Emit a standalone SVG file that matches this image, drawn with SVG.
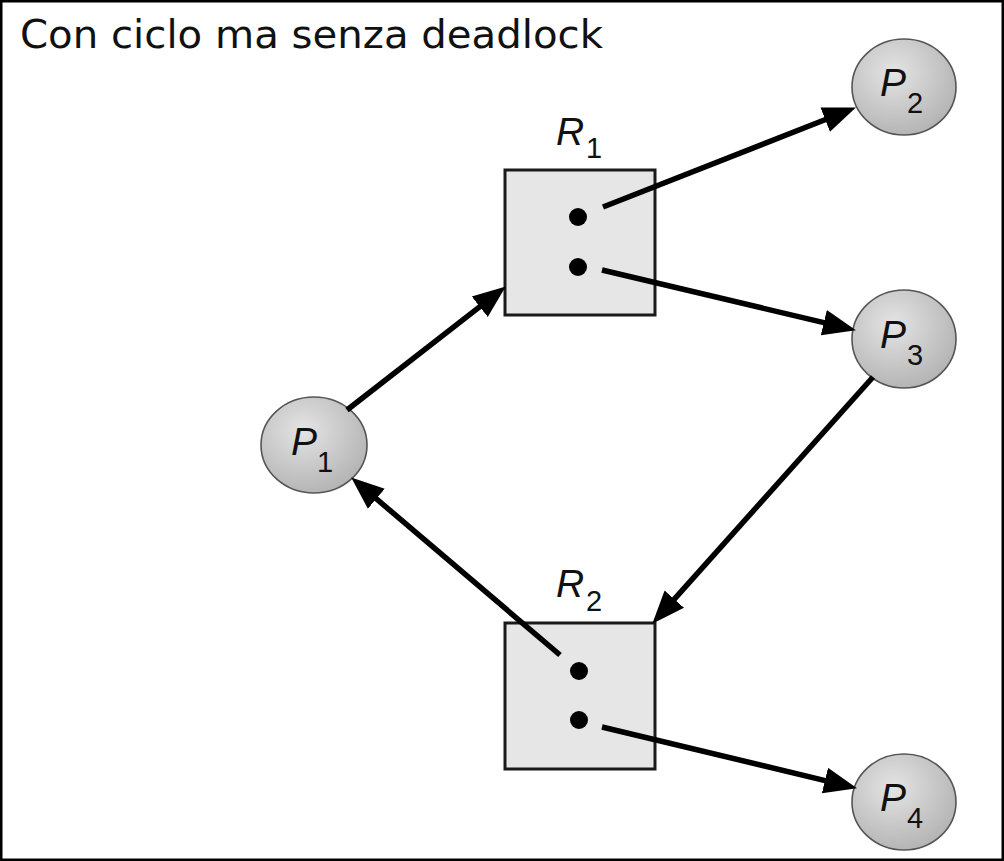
<svg xmlns="http://www.w3.org/2000/svg" width="1004" height="861" viewBox="0 0 1004 861">
<style>
.title{font-family:"DejaVu Sans",Verdana,sans-serif;font-size:39px;fill:#111}
.lbl{font-family:"Liberation Sans",Arial,sans-serif;font-size:39px;font-style:italic;fill:#111}
.sub{font-family:"Liberation Sans",Arial,sans-serif;font-size:29px;fill:#111}
.proc{fill:url(#g);stroke:#555;stroke-width:1.6}
.res{fill:#e6e6e6;stroke:#1a1a1a;stroke-width:3}
.dot{fill:#000}
.edge{stroke:#000;stroke-width:5.5;fill:none;marker-end:url(#ah)}
</style>
<defs>
<radialGradient id="g" cx="0.4" cy="0.35" r="0.7">
<stop offset="0" stop-color="#e4e4e4"/>
<stop offset="1" stop-color="#b2b2b2"/>
</radialGradient>
<marker id="ah" markerUnits="userSpaceOnUse" markerWidth="40" markerHeight="30" refX="12" refY="0" viewBox="0 -15 40 30" orient="auto">
<path d="M0,-13 L33,0 L0,13 z" fill="#000"/>
</marker>
</defs>
<rect x="0" y="0" width="1004" height="861" fill="#fff"/>
<rect x="1" y="1" width="1002" height="859" fill="none" stroke="#000" stroke-width="3"/>
<text class="title" x="20" y="48" textLength="583" lengthAdjust="spacingAndGlyphs">Con ciclo ma senza deadlock</text>

<g id="R1">
<rect class="res" x="505" y="170" width="150" height="145"/>
<circle class="dot" cx="578" cy="217" r="9"/>
<circle class="dot" cx="578" cy="267" r="9"/>
<text class="lbl" x="556" y="145">R</text><text class="sub" x="586" y="158">1</text>
</g>
<g id="R2">
<rect class="res" x="505" y="623" width="150" height="146"/>
<circle class="dot" cx="579" cy="671" r="9"/>
<circle class="dot" cx="579" cy="720" r="9"/>
<text class="lbl" x="556" y="597">R</text><text class="sub" x="586" y="611">2</text>
</g>
<g id="P1">
<ellipse class="proc" cx="314" cy="445" rx="53" ry="48"/>
<text class="lbl" x="291" y="455">P</text><text class="sub" x="317" y="472">1</text>
</g>
<g id="P2">
<ellipse class="proc" cx="904" cy="87" rx="52" ry="48"/>
<text class="lbl" x="880" y="96">P</text><text class="sub" x="907" y="113">2</text>
</g>
<g id="P3">
<ellipse class="proc" cx="904" cy="339" rx="52" ry="49"/>
<text class="lbl" x="880" y="348">P</text><text class="sub" x="907" y="365">3</text>
</g>
<g id="P4">
<ellipse class="proc" cx="904" cy="802" rx="52" ry="48"/>
<text class="lbl" x="880" y="811">P</text><text class="sub" x="907" y="828">4</text>
</g>

<g id="connectors">
<path class="edge" d="M347,410 L489.2,299.3"/>
<path class="edge" d="M603,207 L836.4,115.3"/>
<path class="edge" d="M602,270 L835.5,325.4"/>
<path class="edge" d="M873,377 L666.3,608.1"/>
<path class="edge" d="M560,655 L367.2,491"/>
<path class="edge" d="M602,727 L836.6,783.3"/>
</g>
</svg>
